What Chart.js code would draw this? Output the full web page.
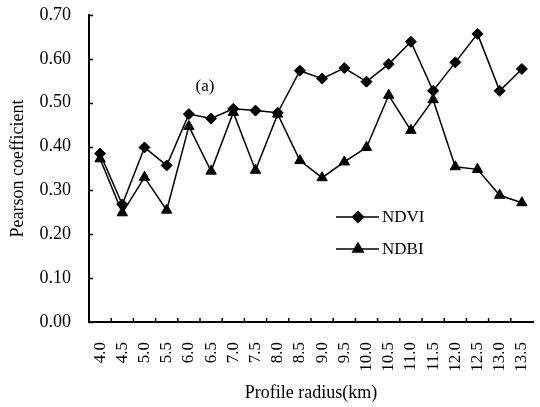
<!DOCTYPE html>
<html>
<head>
<meta charset="utf-8">
<script src="https://cdn.jsdelivr.net/npm/chart.js@4/dist/chart.umd.min.js"></script>
<style>
    html, body { margin: 0; padding: 0; background: #fff; }
    #wrap { width: 540px; height: 407px; }
</style>
</head>
<body>
<div id="wrap"><canvas id="myChart" width="540" height="407"></canvas></div>
<script>
// du lieu doc tu hinh
var radiusLabels = ['4.0', '4.5', '5.0', '5.5', '6.0', '6.5', '7.0', '7.5', '8.0', '8.5',
    '9.0', '9.5', '10.0', '10.5', '11.0', '11.5', '12.0', '12.5', '13.0', '13.5'];
var ndviValues = [0.384, 0.268, 0.398, 0.357, 0.474, 0.464, 0.486, 0.482, 0.477, 0.573,
    0.555, 0.579, 0.548, 0.588, 0.639, 0.527, 0.592, 0.657, 0.527, 0.577];
var ndbiValues = [0.372, 0.249, 0.330, 0.255, 0.446, 0.344, 0.478, 0.346, 0.474, 0.368,
    0.329, 0.365, 0.398, 0.517, 0.437, 0.507, 0.354, 0.348, 0.289, 0.272];
var yTicks = [0, 0.1, 0.2, 0.3, 0.4, 0.5, 0.6, 0.7];

var serif = "'Liberation Serif', 'Times New Roman', serif";

// ve tick huong vao trong, chu (a) va chu giai
const extrasPlugin = {
    id: 'extras',
    afterDraw(chart) {
        const ctx = chart.ctx;
        const xs = chart.scales.x;
        const ys = chart.scales.y;
        const area = chart.chartArea;
        ctx.save();
        ctx.strokeStyle = '#000';
        ctx.lineWidth = 1.5;
        // tick truc y
        yTicks.forEach(function (v) {
            const py = Math.round(ys.getPixelForValue(v)) + 0.5;
            ctx.beginPath();
            ctx.moveTo(area.left, py);
            ctx.lineTo(area.left + 4, py);
            ctx.stroke();
        });
        // tick truc x (giua cac hang muc)
        for (let i = 1; i < radiusLabels.length; i++) {
            const px = (xs.getPixelForValue(i - 1) + xs.getPixelForValue(i)) / 2;
            ctx.beginPath();
            ctx.moveTo(px, area.bottom);
            ctx.lineTo(px, area.bottom - 4);
            ctx.stroke();
        }
        // chu (a)
        ctx.fillStyle = '#000';
        ctx.font = '17px ' + serif;
        ctx.textAlign = 'center';
        ctx.textBaseline = 'middle';
        ctx.fillText('(a)', 205, 87);

        // chu giai
        const items = [
            { text: 'NDVI', style: 'rectRot', r: 5.5, y: 217 },
            { text: 'NDBI', style: 'triangle', r: 6, y: 249 }
        ];
        items.forEach(function (it) {
            ctx.lineWidth = 1.5;
            ctx.beginPath();
            ctx.moveTo(336, it.y);
            ctx.lineTo(379, it.y);
            ctx.stroke();
            Chart.helpers.drawPoint(ctx, { pointStyle: it.style, radius: it.r, borderWidth: 1 }, 358, it.y);
            ctx.fill();
            ctx.textAlign = 'left';
            ctx.font = '17px ' + serif;
            ctx.fillText(it.text, 382, it.y + 1);
        });
        ctx.restore();
    }
};

const ctx = document.getElementById('myChart').getContext('2d');
const myChart = new Chart(ctx, {
    type: 'line',
    data: {
        labels: radiusLabels,
        datasets: [{
            label: 'NDVI',
            data: ndviValues,
            borderColor: '#000',
            backgroundColor: '#000',
            borderWidth: 1.5,
            pointStyle: 'rectRot',
            pointRadius: 5.5,
            pointBorderWidth: 1,
            tension: 0
        },
        {
            label: 'NDBI',
            data: ndbiValues,
            borderColor: '#000',
            backgroundColor: '#000',
            borderWidth: 1.5,
            pointStyle: 'triangle',
            pointRadius: 6,
            pointBorderWidth: 1,
            tension: 0
        }]
    },
    options: {
        responsive: false,
        animation: false,
        events: [],
        layout: { padding: { top: 15, right: 0, left: 0, bottom: 0 } },
        plugins: {
            legend: { display: false },
            tooltip: { enabled: false }
        },
        scales: {
            x: {
                offset: true,
                grid: { display: false, drawTicks: false },
                border: { display: true, color: '#000', width: 2 },
                ticks: {
                    color: '#000',
                    font: { family: serif, size: 17 },
                    minRotation: 90,
                    maxRotation: 90,
                    padding: 20,
                    autoSkip: false
                },
                title: {
                    display: true,
                    text: 'Profile radius(km)',
                    color: '#000',
                    font: { family: serif, size: 18 },
                    padding: { top: 0, bottom: 3 }
                },
                afterFit: function (s) {
                    s.height = 85;
                    s.paddingLeft = 0;
                    s.paddingRight = 0;
                }
            },
            y: {
                min: 0,
                max: 0.7,
                grid: { display: false, drawTicks: false },
                border: { display: true, color: '#000', width: 2 },
                afterBuildTicks: function (s) {
                    s.ticks = yTicks.map(function (v) { return { value: v }; });
                },
                ticks: {
                    color: '#000',
                    font: { family: serif, size: 18 },
                    padding: 18,
                    callback: function (v) { return Number(v).toFixed(2); }
                },
                title: {
                    display: true,
                    text: 'Pearson coefficient',
                    color: '#000',
                    font: { family: serif, size: 18 },
                    padding: { top: 7, bottom: 0 }
                },
                afterFit: function (s) {
                    s.width = 89;
                    s.paddingTop = 0;
                    s.paddingBottom = 0;
                }
            }
        }
    },
    plugins: [extrasPlugin]
});
</script>
</body>
</html>
